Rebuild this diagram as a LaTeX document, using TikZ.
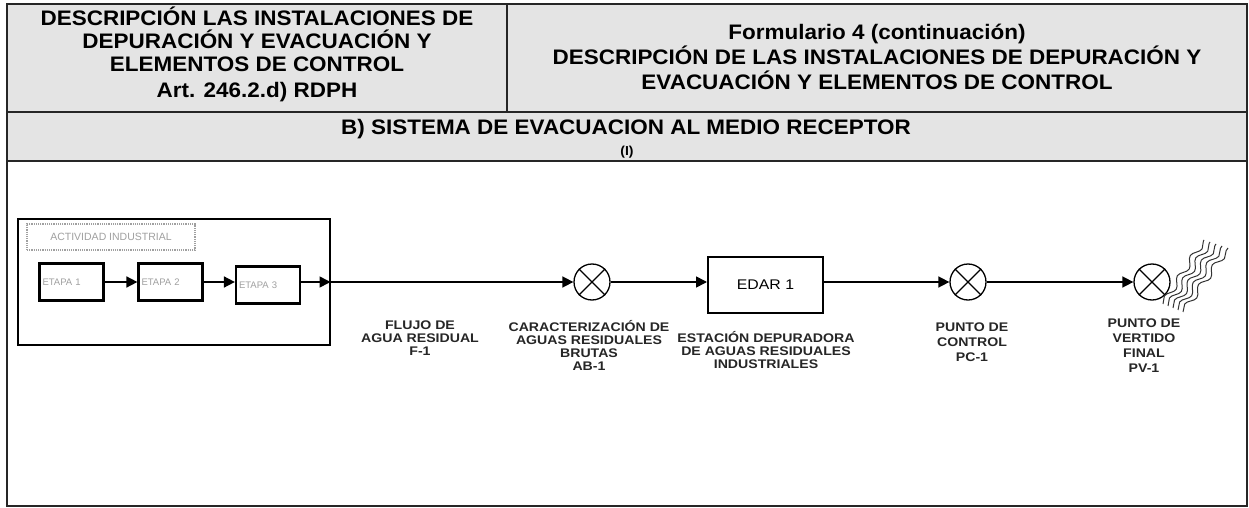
\documentclass[tikz,border=0pt]{standalone}
\usepackage{fontspec}
\setmainfont{Liberation Sans}
\newfontfamily\hdrfont[FakeStretch=1.07]{Liberation Sans}
\newfontfamily\lblfont[FakeStretch=1.13]{Liberation Sans}
\usetikzlibrary{arrows.meta,decorations.pathmorphing,calc}
\definecolor{hdrgray}{HTML}{E4E4E4}
\definecolor{faint}{HTML}{A0A0A0}
\begin{document}
\begin{tikzpicture}[x=1pt,y=-1pt,
  frameline/.style={line width=2.6pt, draw=black!85},
  hdrtext/.style={font={\hdrfont\bfseries\fontsize{21}{23}\selectfont}, align=center, inner sep=0pt},
  hdrtextb/.style={font={\hdrfont\bfseries\fontsize{21}{25}\selectfont}, align=center, inner sep=0pt},
  smalltext/.style={font={\hdrfont\bfseries\fontsize{13}{14}\selectfont}, inner sep=0pt},
  actbox/.style={draw, line width=2pt, minimum width=312pt, minimum height=126pt, inner sep=0pt},
  dashbox/.style={draw=faint, densely dotted, line width=1.2pt, minimum width=168pt, minimum height=26pt, inner sep=0pt,
     text=faint, font={\fontsize{10.5}{11}\selectfont}},
  stagebox/.style={draw, line width=2.2pt, minimum height=37pt, text width=58pt, inner xsep=3pt, inner ysep=0pt,
     align=left, text=faint, font={\fontsize{9.5}{10}\selectfont}},
  edarbox/.style={draw, line width=2pt, minimum width=115pt, minimum height=56pt, inner sep=0pt,
     font={\lblfont\fontsize{14}{15}\selectfont}},
  meter/.style={draw, circle, line width=1.3pt, minimum size=36pt, inner sep=0pt},
  xline/.style={line width=1.2pt},
  arr/.style={line width=1.6pt, -{Triangle[length=11pt,width=11pt]}},
  wave/.style={line width=1pt, draw=black!80, decorate, decoration={snake, segment length=24pt, amplitude=3.2pt}},
  lbl/.style={font={\lblfont\bfseries\fontsize{12.5}{13}\selectfont}, align=center, inner sep=0pt, text=black!85},
  lblw/.style={font={\lblfont\bfseries\fontsize{12.5}{15}\selectfont}, align=center, inner sep=0pt, text=black!85}
]
\useasboundingbox (0,0) rectangle (1249,508);
\fill[white] (0,0) rectangle (1249,508);
% frame
\fill[hdrgray] (7,4) rectangle (1247,161);
\draw[frameline] (7,4) rectangle (1247,506);
\draw[frameline] (7,112) -- (1247,112);
\draw[frameline] (7,161) -- (1247,161);
\draw[frameline] (507,4) -- (507,112);
% header texts
\node[hdrtext] (hl) at (257,54) {DESCRIPCIÓN LAS INSTALACIONES DE\\DEPURACIÓN Y EVACUACIÓN Y\\ELEMENTOS DE CONTROL\\[3pt]Art. 246.2.d) RDPH};
\node[hdrtextb] (hr) at (877,57) {Formulario 4 (continuación)\\DESCRIPCIÓN DE LAS INSTALACIONES DE DEPURACIÓN Y\\EVACUACIÓN Y ELEMENTOS DE CONTROL};
\node[hdrtext, anchor=base] (hb) at (626,135) {B) SISTEMA DE EVACUACION AL MEDIO RECEPTOR};
\node[smalltext] (hi) at (627,152) {(I)};
% activity block
\node[actbox] (act) at (173.5,282) {};
\node[dashbox] (actl) at (111,237) {ACTIVIDAD INDUSTRIAL};
\node[stagebox] (e1) at (71.5,282) {ETAPA 1};
\node[stagebox] (e2) at (170.5,282) {ETAPA 2};
\node[stagebox] (e3) at (268,285) {ETAPA 3};
\draw[arr] (e1) -- (e2);
\draw[arr] (e2.east) -- (e2.east -| e3.west);
\draw[arr] (e3.east |- act.east) -- (act.east);
% main chain
\node[meter] (c1) at (592,282) {};
\node[edarbox] (edar) at (765.5,285) {EDAR 1};
\node[meter] (c2) at (968,282) {};
\node[meter] (c3) at (1152,282) {};
\foreach \c in {c1,c2,c3}{
  \draw[xline] (\c.45) -- (\c.225) (\c.135) -- (\c.315);
}
\draw[arr] (act) -- (c1);
\draw[arr] (c1.east) -- (c1.east -| edar.west);
\draw[arr] (edar.east |- c2.west) -- (c2.west);
\draw[arr] (c2) -- (c3);
% receiving water
\foreach \i in {0,...,4}{
  \draw[wave] (1163+5*\i, 304+2*\i) -- (1204+6*\i, 240+2*\i);
}
% labels
\node[lbl] (l1) at (420,338) {FLUJO DE\\AGUA RESIDUAL\\F-1};
\node[lbl] (l2) at (589,345) {CARACTERIZACIÓN DE\\AGUAS RESIDUALES\\BRUTAS\\AB-1};
\node[lbl] (l3) at (766,350) {ESTACIÓN DEPURADORA\\DE AGUAS RESIDUALES\\INDUSTRIALES};
\node[lblw] (l4) at (972,342) {PUNTO DE\\CONTROL\\PC-1};
\node[lblw] (l5) at (1144,346) {PUNTO DE\\VERTIDO\\FINAL\\PV-1};
\end{tikzpicture}
\end{document}
